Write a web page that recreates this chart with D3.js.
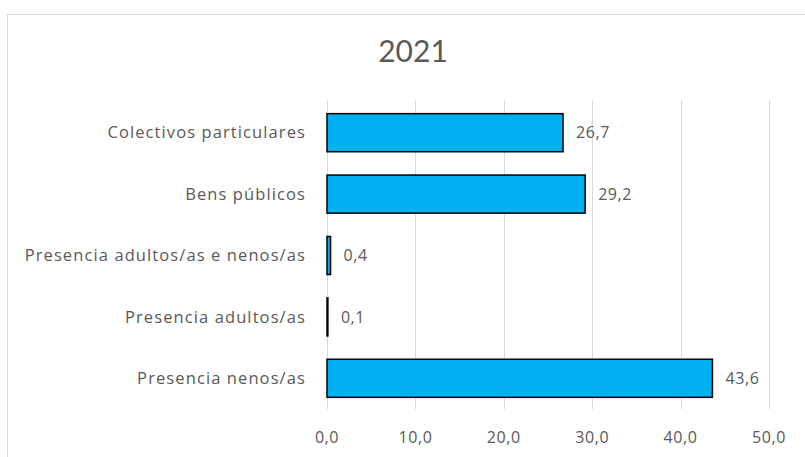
<!DOCTYPE html>
<html>
<head>
<meta charset="utf-8">
<script src="https://d3js.org/d3.v7.min.js"></script>
<style>
  body { margin: 0; background: #fff; }
  svg text { font-family: "Open Sans", Lato, sans-serif; fill: #595959; }
</style>
</head>
<body>
<svg width="805" height="457"></svg>
<script>
// chart data
var categories = ["Colectivos particulares", "Bens públicos", "Presencia adultos/as e nenos/as", "Presencia adultos/as", "Presencia nenos/as"];
var values = [26.7, 29.2, 0.4, 0.1, 43.6];
var ticks = [0, 10, 20, 30, 40, 50];
var title = "2021";

var svg = d3.select("svg");
var fmt = function(d) { return d3.format(".1f")(d).replace(".", ","); };

// outer frame
svg.append("rect")
  .attr("x", 7.5).attr("y", 14.5)
  .attr("width", 820).attr("height", 460)
  .attr("fill", "none").attr("stroke", "#d9d9d9");

svg.append("text")
  .attr("x", 413).attr("y", 62)
  .attr("text-anchor", "middle")
  .style("font-family", "Lato, sans-serif")
  .style("font-size", "30px")
  .text(title);

var x = d3.scaleLinear().domain([0, 50]).range([327, 769]);
var y = d3.scaleBand().domain(categories).range([102, 409]).paddingInner(0.38).paddingOuter(0.19);

// gridlines
svg.append("g").selectAll("line")
  .data(ticks)
  .enter().append("line")
  .attr("x1", function(d) { return Math.round(x(d)) + 0.5; })
  .attr("x2", function(d) { return Math.round(x(d)) + 0.5; })
  .attr("y1", 100).attr("y2", 409)
  .attr("stroke", "#d9d9d9");

// tick labels
svg.append("g").selectAll("text")
  .data(ticks)
  .enter().append("text")
  .attr("x", function(d) { return x(d); })
  .attr("y", 443)
  .attr("text-anchor", "middle")
  .style("font-size", "16px")
  .style("letter-spacing", "0.6px")
  .text(fmt);

// bars
svg.append("g").selectAll("rect")
  .data(values)
  .enter().append("rect")
  .attr("x", x(0))
  .attr("y", function(d, i) { return y(categories[i]); })
  .attr("width", function(d) { return x(d) - x(0); })
  .attr("height", y.bandwidth())
  .attr("fill", "#00b0f0")
  .attr("stroke", "#000")
  .attr("stroke-width", 1.5);

// category labels
svg.append("g").selectAll("text")
  .data(categories)
  .enter().append("text")
  .attr("x", 306)
  .attr("y", function(d) { return y(d) + y.bandwidth() / 2; })
  .attr("dy", "0.35em")
  .attr("text-anchor", "end")
  .style("font-size", "16.5px")
  .style("letter-spacing", "1.1px")
  .text(function(d) { return d; });

// value labels
svg.append("g").selectAll("text")
  .data(values)
  .enter().append("text")
  .attr("x", function(d) { return x(d) + 13; })
  .attr("y", function(d, i) { return y(categories[i]) + y.bandwidth() / 2; })
  .attr("dy", "0.35em")
  .style("font-size", "16px")
  .style("letter-spacing", "0.6px")
  .text(fmt);
</script>
</body>
</html>
